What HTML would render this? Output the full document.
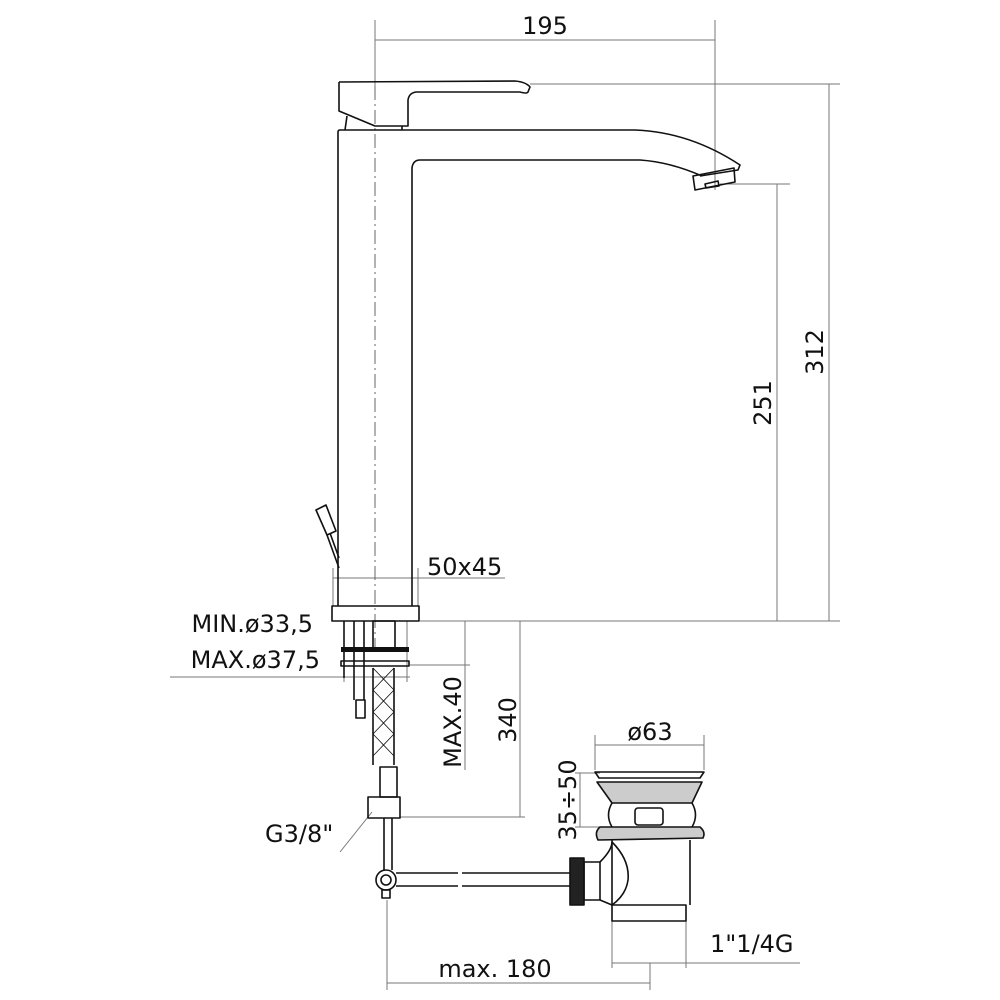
<!DOCTYPE html>
<html><head><meta charset="utf-8"><style>html,body{margin:0;padding:0;background:#fff}svg{display:block}text{font-family:"DejaVu Sans","Liberation Sans",sans-serif;fill:#111}</style></head>
<body>
<svg width="1000" height="1000" viewBox="0 0 1000 1000" xmlns="http://www.w3.org/2000/svg">
<g fill="none" stroke="#777" stroke-width="1">
<line x1="375" y1="20" x2="375" y2="86"/>
<line x1="715" y1="20" x2="715" y2="190"/>
<line x1="375" y1="40" x2="715" y2="40"/>
<line x1="530" y1="84" x2="840" y2="84"/>
<line x1="420" y1="621" x2="840" y2="621"/>
<line x1="829" y1="84" x2="829" y2="621"/>
<line x1="720" y1="184" x2="790" y2="184"/>
<line x1="777" y1="184" x2="777" y2="621"/>
<line x1="333" y1="578" x2="505" y2="578"/>
<line x1="333" y1="568" x2="333" y2="606"/>
<line x1="418" y1="568" x2="418" y2="606"/>
<line x1="170" y1="677" x2="410" y2="677"/>
<line x1="344" y1="621" x2="344" y2="682"/>
<line x1="407" y1="621" x2="407" y2="682"/>
<line x1="410" y1="665" x2="470" y2="665"/>
<line x1="465" y1="621" x2="465" y2="770"/>
<line x1="400" y1="817" x2="525" y2="817"/>
<line x1="520" y1="621" x2="520" y2="817"/>
<line x1="340" y1="852" x2="372" y2="812"/>
<line x1="595" y1="735" x2="595" y2="770"/>
<line x1="704" y1="735" x2="704" y2="770"/>
<line x1="595" y1="745" x2="704" y2="745"/>
<line x1="575" y1="773" x2="600" y2="773"/>
<line x1="575" y1="827" x2="600" y2="827"/>
<line x1="580" y1="773" x2="580" y2="827"/>
<line x1="612" y1="920" x2="612" y2="968"/>
<line x1="686" y1="920" x2="686" y2="968"/>
<line x1="612" y1="963" x2="800" y2="963"/>
<line x1="387" y1="900" x2="387" y2="990"/>
<line x1="650" y1="963" x2="650" y2="990"/>
<line x1="387" y1="983" x2="650" y2="983"/>
</g>
<line x1="375" y1="86" x2="375" y2="650" stroke="#666" stroke-width="1" stroke-dasharray="14,4,2,4"/>
<g fill="none" stroke="#111" stroke-width="1.6" stroke-linejoin="round">
<path d="M339,82 L339,111 L375,126 L408,126 L408,100 Q409,93 416,92 L520,92 Q527,94 528,92 L530,87 Q526,82 515,81 L339,82"/>
<path d="M347,116 L345,130 M402,126 L402,130"/>
<path d="M338,578 L338,132 Q338,130 340,130 L635,130 Q690,132 740,165 L738,170 L700,176"/>
<path d="M412,578 L412,168 Q413,160 420,160 L640,160 Q670,162 702,176"/>
<path d="M693,176 L734,168 L735,182 L695,190 Z"/>
<path d="M705,184 L718,181 L719,186 L706,188 Z"/>
<path d="M316,510 L326,505 L336,531 L327,535 Z"/>
<path d="M327,535 L339,568 M330,533 L339,558"/>
<rect x="332" y="606" width="87" height="15"/>
<line x1="338" y1="578" x2="338" y2="606"/>
<line x1="412" y1="578" x2="412" y2="606"/>
<path d="M344,621 L344,678 M354,621 L354,700 M364,621 L364,700"/>
<rect x="356" y="700" width="9" height="18"/>
<rect x="373" y="621" width="22" height="27"/>
<rect x="341" y="661" width="68" height="5"/>
<path d="M373,668 L373,765 M394,668 L394,765"/>
<path d="M373,668 L394,690 M373,690 L394,668 M373,690 L394,712 M373,712 L394,690 M373,712 L394,734 M373,734 L394,712 M373,734 L394,756 M373,756 L394,734" stroke-width="0.8"/>
<rect x="380" y="767" width="17" height="30"/>
<rect x="368" y="797" width="32" height="21"/>
<path d="M384,818 L384,870 M392,818 L392,870"/>
<circle cx="386" cy="880" r="10"/><circle cx="386" cy="880" r="5"/>
<rect x="382" y="890" width="8" height="8"/>
<path d="M396,873 L458,873 M396,886 L458,886 M462,873 L570,873 M462,886 L570,886"/>
<rect x="570" y="858" width="14" height="47" fill="#222"/>
<path d="M584,862 L600,862 L600,900 L584,900 Z"/>
<path d="M600,862 Q612,850 612,842"/>
<path d="M600,900 L612,905"/>
<path d="M612,842 Q630,860 628,880 Q626,895 612,905"/>
<path d="M612,840 L612,905 M690,840 L690,905"/>
<rect x="612" y="905" width="74" height="16"/>
<path d="M595,772 L704,772 L700,778 L599,778 Z"/>
<path d="M597,782 L702,782 L692,803 L612,803 Z" fill="#ccc"/>
<path d="M612,803 Q605,815 612,827 M692,803 Q699,815 692,827"/>
<rect x="635" y="808" width="28" height="17" rx="3"/>
<path d="M600,827 L700,827 Q706,832 703,838 L598,840 Q594,832 600,827 Z" fill="#ccc"/>
</g>
<rect x="341" y="647" width="68" height="5" fill="#111"/>
<g font-size="24">
<text x="545" y="34" text-anchor="middle">195</text>
<text x="427" y="575">50x45</text>
<text x="313" y="632" text-anchor="end">MIN.ø33,5</text>
<text x="320" y="668" text-anchor="end">MAX.ø37,5</text>
<text x="265" y="842">G3/8"</text>
<text x="650" y="740" text-anchor="middle">ø63</text>
<text x="710" y="952">1"1/4G</text>
<text x="495" y="977" text-anchor="middle">max. 180</text>
<text transform="translate(823,352) rotate(-90)" text-anchor="middle">312</text>
<text transform="translate(771,403) rotate(-90)" text-anchor="middle">251</text>
<text transform="translate(461,722) rotate(-90)" text-anchor="middle">MAX.40</text>
<text transform="translate(516,720) rotate(-90)" text-anchor="middle">340</text>
<text transform="translate(576,800) rotate(-90)" text-anchor="middle">35÷50</text>
</g>
</svg>
</body></html>
